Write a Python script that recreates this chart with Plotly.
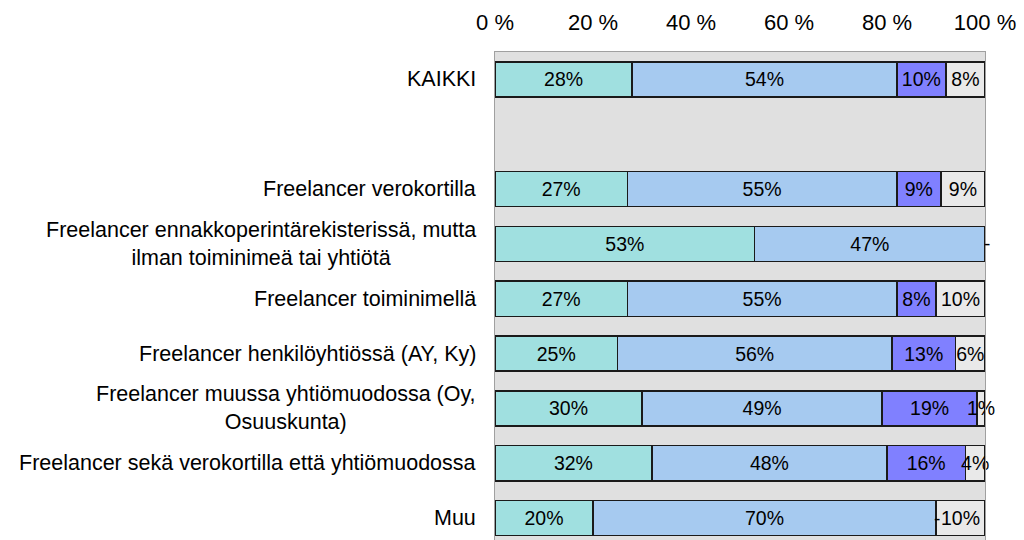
import plotly.graph_objects as go

categories = [
    "KAIKKI",
    "",
    "Freelancer verokortilla",
    "Freelancer ennakkoperintärekisterissä, mutta<br>ilman toiminimeä tai yhtiötä",
    "Freelancer toiminimellä",
    "Freelancer henkilöyhtiössä (AY, Ky)",
    "Freelancer muussa yhtiömuodossa (Oy,<br>Osuuskunta)",
    "Freelancer sekä verokortilla että yhtiömuodossa",
    "Muu",
]

series_names = ["Sarja 1", "Sarja 2", "Sarja 3", "Sarja 4"]
series_colors = ["#a0e0e0", "#a6caf0", "#8080ff", "#e9e9e9"]

# values per series, one entry per category (None = empty slot)
s1 = [28, None, 27, 53, 27, 25, 30, 32, 20]
s2 = [54, None, 55, 47, 55, 56, 49, 48, 70]
s3 = [10, None, 9, 0, 8, 13, 19.4, 16, 0]
s4 = [8, None, 9, 0, 10, 6, 1.6, 4, 10]

l1 = ["28%", "", "27%", "53%", "27%", "25%", "30%", "32%", "20%"]
l2 = ["54%", "", "55%", "47%", "55%", "56%", "49%", "48%", "70%"]
l3 = ["10%", "", "9%", "", "8%", "13%", "19%", "16%", ""]
l4 = ["8%", "", "9%", "", "10%", "6%", "1%", "4%", "10%"]

tick_vals = [0, 20, 40, 60, 80, 100]
tick_text = ["0 %", "20 %", "40 %", "60 %", "80 %", "100 %"]

positions = list(range(len(categories)))
series = [s1, s2, s3, s4]
labels = [l1, l2, l3, l4]

FONT = "Liberation Sans, Arial"

fig = go.Figure()
for name, color, vals, labs in zip(series_names, series_colors, series, labels):
    fig.add_trace(go.Bar(
        y=positions, x=vals, orientation="h", name=name,
        marker=dict(color=color, line=dict(color="#1a1a1a", width=1.5)),
        text=labs, textposition="inside", insidetextanchor="middle",
        textangle=0, textfont=dict(family=FONT, size=19.5, color="#000000"),
        width=0.64, cliponaxis=False, hoverinfo="skip", showlegend=False,
    ))

annotations = []
# category labels
for pos, cat in zip(positions, categories):
    if cat:
        annotations.append(dict(
            x=0, xref="paper", y=pos, yref="y", text=cat, showarrow=False,
            xanchor="right", yanchor="middle", align="center", xshift=-17,
            font=dict(family=FONT, size=21.5, color="#000000"),
        ))

# dashes for zero-valued segments
for i, pos in enumerate(positions):
    if s1[i] is None:
        continue
    cum = 0
    seen = set()
    for vals in series:
        v = vals[i]
        if v == 0 and cum not in seen:
            seen.add(cum)
            annotations.append(dict(
                x=cum, xref="x", y=pos, yref="y", text="-", showarrow=False,
                xanchor="left" if cum >= 100 else "right", yanchor="middle",
                xshift=-3 if cum >= 100 else 6,
                font=dict(family=FONT, size=19, color="#000000"),
            ))
        cum += v

fig.update_layout(
    barmode="stack",
    width=1024, height=540,
    margin=dict(l=495, r=39, t=52, b=0, pad=0),
    paper_bgcolor="#ffffff",
    plot_bgcolor="#e0e0e0",
    uniformtext=dict(minsize=19.5, mode="show"),
    annotations=annotations,
    xaxis=dict(
        range=[0, 100], side="top", tickvals=tick_vals, ticktext=tick_text,
        showgrid=False, zeroline=False, showline=True, linecolor="#a0a0a0",
        linewidth=1, mirror=True, ticks="", ticklabelstandoff=12,
        tickfont=dict(family=FONT, size=22, color="#000000"),
        fixedrange=True,
    ),
    yaxis=dict(
        range=[8.4, -0.5], showticklabels=False, showgrid=False, zeroline=False,
        showline=True, linecolor="#a0a0a0", linewidth=1, mirror=True, ticks="",
        fixedrange=True,
    ),
)

fig.write_html(
    "out.html",
    config={"displayModeBar": False},
    post_script="document.body.style.margin='0';document.body.style.overflow='hidden';",
)
